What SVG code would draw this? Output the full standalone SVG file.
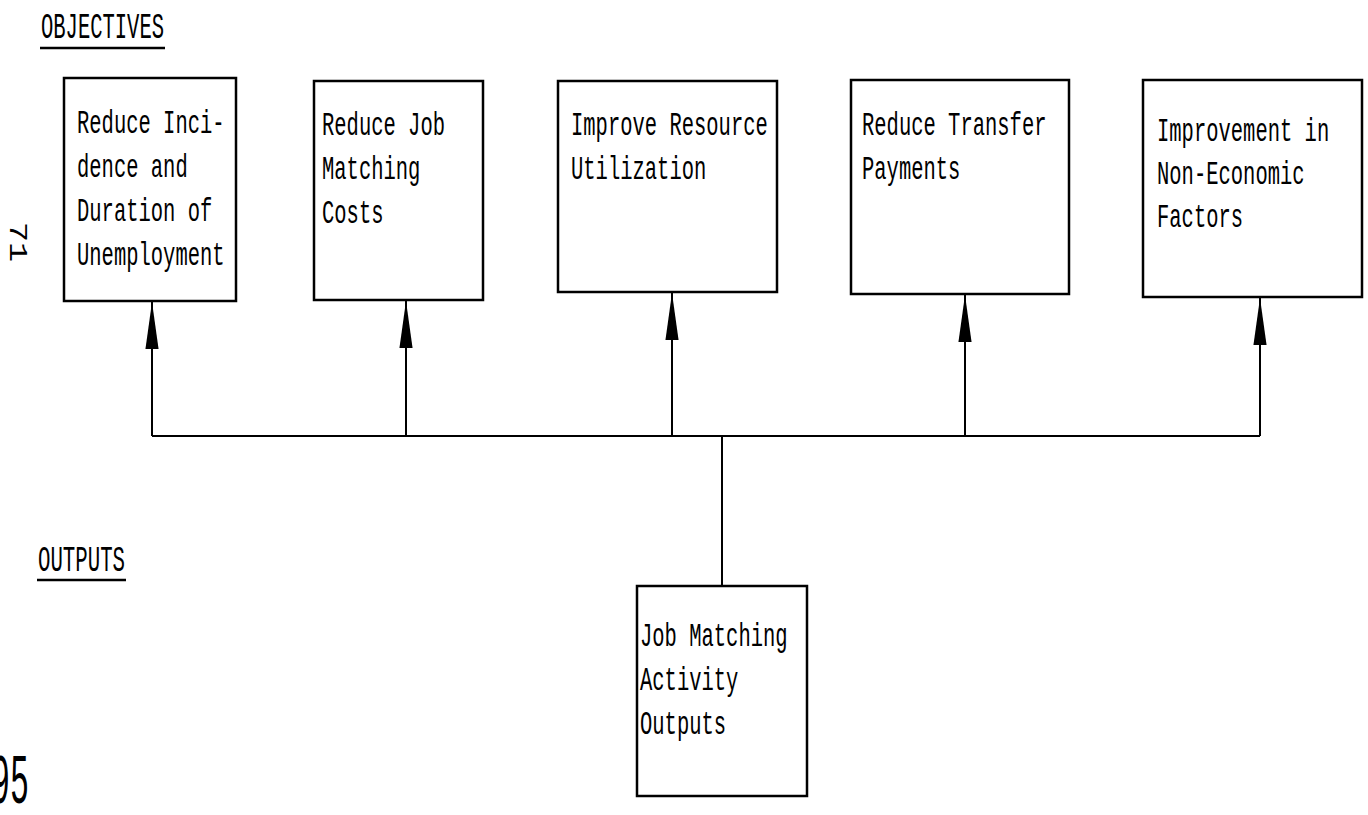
<svg xmlns="http://www.w3.org/2000/svg" width="1368" height="815" viewBox="0 0 1368 815">
  <style>
    .box { fill: #fff; stroke: #000; stroke-width: 2.5; }
    .t { font-family: "Liberation Mono", "DejaVu Sans Mono", monospace; font-size: 34px; fill: #000; }
    .h { font-family: "Liberation Mono", "DejaVu Sans Mono", monospace; font-size: 36px; fill: #000; }
    .pg { font-family: "Liberation Mono", "DejaVu Sans Mono", monospace; fill: #000; }
    .conn { stroke: #000; stroke-width: 2; fill: none; }
    .ul { stroke: #000; stroke-width: 2.5; }
  </style>
  <defs>
    <marker id="arrow" viewBox="0 0 50 16" refX="50" refY="8" markerWidth="50" markerHeight="15" markerUnits="userSpaceOnUse" orient="auto">
      <path d="M0,1 L50,8 L0,15 z" fill="#000"/>
    </marker>
  </defs>

  <rect width="1368" height="815" fill="#fff"/>

  <g id="labels">
    <text class="h" x="41" y="38" textLength="123" lengthAdjust="spacingAndGlyphs">OBJECTIVES</text>
    <line class="ul" x1="40" y1="48" x2="165" y2="48"/>
    <text class="h" x="38" y="571" textLength="87" lengthAdjust="spacingAndGlyphs">OUTPUTS</text>
    <line class="ul" x1="37" y1="580" x2="126" y2="580"/>
    <text class="pg" style="font-size:26px" transform="translate(10,242) rotate(90)" x="0" y="0" text-anchor="middle" textLength="40" lengthAdjust="spacingAndGlyphs">71</text>
    <text class="pg" style="font-size:70px" x="-9" y="803" textLength="38" lengthAdjust="spacingAndGlyphs">95</text>
  </g>

  <g id="connectors">
    <line class="conn" x1="152" y1="436" x2="1260" y2="436"/>
    <line class="conn" x1="722" y1="436" x2="722" y2="586"/>
    <line class="conn" x1="152" y1="436" x2="152" y2="302" marker-end="url(#arrow)"/>
    <line class="conn" x1="406" y1="436" x2="406" y2="301" marker-end="url(#arrow)"/>
    <line class="conn" x1="672" y1="436" x2="672" y2="293" marker-end="url(#arrow)"/>
    <line class="conn" x1="965" y1="436" x2="965" y2="295" marker-end="url(#arrow)"/>
    <line class="conn" x1="1260" y1="436" x2="1260" y2="298" marker-end="url(#arrow)"/>
  </g>

  <g id="obj1">
    <rect class="box" x="64" y="78" width="172" height="223"/>
    <text class="t" x="77" y="133" textLength="147.6" lengthAdjust="spacingAndGlyphs">Reduce Inci-</text>
    <text class="t" x="77" y="177" textLength="110.7" lengthAdjust="spacingAndGlyphs">dence and</text>
    <text class="t" x="77" y="221" textLength="135.3" lengthAdjust="spacingAndGlyphs">Duration of</text>
    <text class="t" x="77" y="265" textLength="147.6" lengthAdjust="spacingAndGlyphs">Unemployment</text>
  </g>

  <g id="obj2">
    <rect class="box" x="314" y="81" width="169" height="219"/>
    <text class="t" x="322" y="135" textLength="123" lengthAdjust="spacingAndGlyphs">Reduce Job</text>
    <text class="t" x="322" y="179" textLength="98.4" lengthAdjust="spacingAndGlyphs">Matching</text>
    <text class="t" x="322" y="223" textLength="61.5" lengthAdjust="spacingAndGlyphs">Costs</text>
  </g>

  <g id="obj3">
    <rect class="box" x="558" y="81" width="219" height="211"/>
    <text class="t" x="571" y="135" textLength="196.8" lengthAdjust="spacingAndGlyphs">Improve Resource</text>
    <text class="t" x="571" y="179" textLength="135.3" lengthAdjust="spacingAndGlyphs">Utilization</text>
  </g>

  <g id="obj4">
    <rect class="box" x="851" y="80" width="218" height="214"/>
    <text class="t" x="862" y="135" textLength="184.5" lengthAdjust="spacingAndGlyphs">Reduce Transfer</text>
    <text class="t" x="862" y="179" textLength="98.4" lengthAdjust="spacingAndGlyphs">Payments</text>
  </g>

  <g id="obj5">
    <rect class="box" x="1143" y="80" width="219" height="217"/>
    <text class="t" x="1157" y="141" textLength="172.2" lengthAdjust="spacingAndGlyphs">Improvement in</text>
    <text class="t" x="1157" y="184" textLength="147.6" lengthAdjust="spacingAndGlyphs">Non-Economic</text>
    <text class="t" x="1157" y="227" textLength="86.1" lengthAdjust="spacingAndGlyphs">Factors</text>
  </g>

  <g id="output">
    <rect class="box" x="637" y="586" width="170" height="210"/>
    <text class="t" x="640" y="646" textLength="147.6" lengthAdjust="spacingAndGlyphs">Job Matching</text>
    <text class="t" x="640" y="690" textLength="98.4" lengthAdjust="spacingAndGlyphs">Activity</text>
    <text class="t" x="640" y="734" textLength="86.1" lengthAdjust="spacingAndGlyphs">Outputs</text>
  </g>
</svg>
